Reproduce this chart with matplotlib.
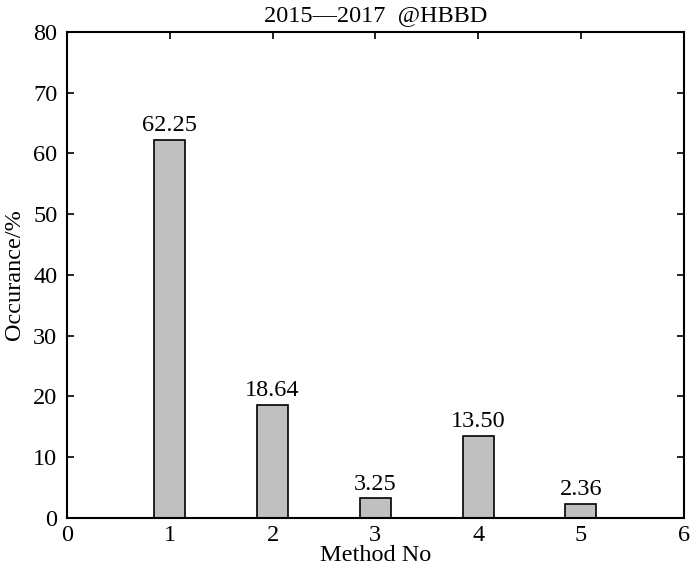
import matplotlib
matplotlib.use("Agg")
import matplotlib.pyplot as plt

methods = [1, 2, 3, 4, 5]
occurrence = [62.25, 18.64, 3.25, 13.50, 2.36]
value_labels = ["62.25", "18.64", "3.25", "13.50", "2.36"]
xticks = [0, 1, 2, 3, 4, 5, 6]
yticks = [0, 10, 20, 30, 40, 50, 60, 70, 80]

FS = 17.5
plt.rcParams['font.family'] = ['Liberation Serif', 'DejaVu Serif']
plt.rcParams['font.size'] = FS

fig = plt.figure(figsize=(7, 5.7), dpi=100)
ax = fig.add_axes([0.0957, 0.0912, 0.881, 0.853])

bars = ax.bar(methods, occurrence, width=0.3, color='#c0c0c0', edgecolor='black', linewidth=1.2, zorder=2)
for b, lab in zip(bars, value_labels):
    ax.text(b.get_x() + b.get_width() / 2, b.get_height() + 0.6, lab,
            ha='center', va='bottom', fontsize=FS)

ax.set_xlim(0, 6)
ax.set_ylim(0, 80)
ax.set_xticks(xticks)
ax.set_yticks(yticks)
ax.tick_params(direction='in', top=True, right=True, length=5, width=1.2, labelsize=FS)
ax.tick_params(axis='x', pad=5)
ax.tick_params(axis='y', pad=7)
for s in ax.spines.values():
    s.set_linewidth(1.5)

ax.set_title("2015\u20142017  @HBBD", fontsize=FS, pad=8)
ax.set_xlabel("Method No", fontsize=FS, labelpad=-1)
ax.set_ylabel("Occurance/%", fontsize=FS, labelpad=6)

fig.savefig("out.png", dpi=100)
